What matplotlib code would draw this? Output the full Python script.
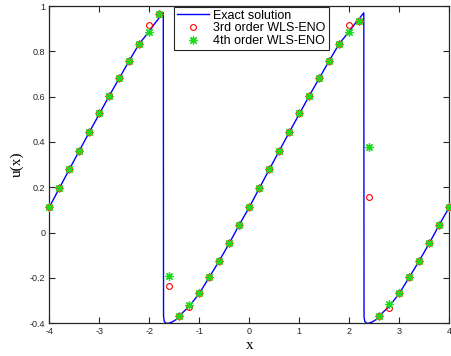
import matplotlib
matplotlib.use("Agg")
import matplotlib.pyplot as plt

# Exact solution
exact_x = [-4.0, -3.6, -3.2, -2.8, -2.4, -2.2, -2.0, -1.9, -1.8, -1.72,
           -1.715, -1.70, -1.66, -1.62, -1.55, -1.45, -1.4, -1.2, -1.0, -0.8,
           -0.6, -0.4, -0.2, 0.0, 0.4, 0.8, 1.2, 1.6, 1.8, 2.0, 2.1, 2.2, 2.29,
           2.295, 2.31, 2.35, 2.38, 2.45, 2.55, 2.6, 2.8, 3.0, 3.2, 3.4, 3.6,
           3.8, 4.0]
exact_u = [0.112, 0.279, 0.443, 0.604, 0.759, 0.834, 0.888, 0.920, 0.948, 0.970,
           -0.370, -0.392, -0.400, -0.400, -0.395, -0.382, -0.367, -0.325, -0.268, -0.197,
           -0.124, -0.047, 0.035, 0.112, 0.279, 0.443, 0.604, 0.759, 0.834, 0.888, 0.918, 0.945, 0.970,
           -0.370, -0.392, -0.400, -0.400, -0.395, -0.382, -0.367, -0.325, -0.268, -0.197, -0.124, -0.047,
           0.035, 0.112]

grid_x = [-4.0, -3.8, -3.6, -3.4, -3.2, -3.0, -2.8, -2.6, -2.4, -2.2,
          -2.0, -1.8, -1.6, -1.4, -1.2, -1.0, -0.8, -0.6, -0.4, -0.2,
          0.0, 0.2, 0.4, 0.6, 0.8, 1.0, 1.2, 1.4, 1.6, 1.8,
          2.0, 2.2, 2.4, 2.6, 2.8, 3.0, 3.2, 3.4, 3.6, 3.8, 4.0]

weno3_u = [0.112, 0.198, 0.279, 0.361, 0.443, 0.528, 0.604, 0.682, 0.759, 0.834,
           0.916, 0.965, -0.236, -0.367, -0.328, -0.268, -0.197, -0.124, -0.047, 0.035,
           0.112, 0.198, 0.279, 0.361, 0.445, 0.528, 0.604, 0.682, 0.758, 0.834,
           0.916, 0.935, 0.156, -0.367, -0.334, -0.268, -0.197, -0.124, -0.047, 0.035, 0.112]

weno4_u = [0.112, 0.198, 0.279, 0.361, 0.443, 0.528, 0.604, 0.682, 0.759, 0.834,
           0.884, 0.965, -0.192, -0.367, -0.321, -0.268, -0.197, -0.124, -0.047, 0.035,
           0.112, 0.198, 0.279, 0.361, 0.445, 0.528, 0.604, 0.682, 0.758, 0.834,
           0.884, 0.935, 0.379, -0.367, -0.317, -0.268, -0.197, -0.124, -0.047, 0.035, 0.112]

xticks = [-4, -3, -2, -1, 0, 1, 2, 3, 4]
xticklabels = ["-4", "-3", "-2", "-1", "0", "1", "2", "3", "4"]
yticks = [-0.4, -0.2, 0, 0.2, 0.4, 0.6, 0.8, 1.0]
yticklabels = ["-0.4", "-0.2", "0", "0.2", "0.4", "0.6", "0.8", "1"]

plt.rcParams['font.family'] = ['Liberation Sans', 'DejaVu Sans']

fig = plt.figure(figsize=(4.51, 3.56), dpi=100)
ax = fig.add_axes([0.1093, 0.0919, 0.8869, 0.8912])

ax.plot(exact_x, exact_u, color=(0, 0, 1), lw=1.0, label="Exact solution", zorder=2)
ax.plot(grid_x, weno3_u, linestyle='none', marker='o', markersize=4.2,
        markerfacecolor='none', markeredgecolor=(1, 0, 0), markeredgewidth=0.8,
        label="3rd order WLS-ENO", zorder=3, clip_on=False)
ax.plot(grid_x, weno4_u, linestyle='none', marker=(8, 2, 0), markersize=6,
        color=(0.1, 0.87, 0.1), markeredgecolor=(0.1, 0.87, 0.1), markeredgewidth=0.9,
        label="4th order WLS-ENO", zorder=4, clip_on=False)

ax.set_xlim(-4, 4)
ax.set_ylim(-0.4, 1.0)
ax.set_xticks(xticks)
ax.set_xticklabels(xticklabels)
ax.set_yticks(yticks)
ax.set_yticklabels(yticklabels)
ax.tick_params(direction='in', length=4, width=0.8, top=True, right=True,
               labelsize=6.5, labelcolor='#262626', color='#262626', pad=3)
for s in ax.spines.values():
    s.set_linewidth(0.9)
    s.set_color('#262626')

ax.set_xlabel("x", family=['Liberation Serif'], fontsize=11, labelpad=2)
ax.set_ylabel("u(x)", family=['Liberation Serif'], fontsize=11, labelpad=4)

leg = ax.legend(loc='upper center', bbox_to_anchor=(0.505, 1.0), borderaxespad=0.05,
                fontsize=9, frameon=True, fancybox=False, edgecolor='#262626',
                handlelength=2.6, handletextpad=0.3, borderpad=0.25, labelspacing=0.05,
                framealpha=1)
leg.get_frame().set_linewidth(0.8)
leg.set_zorder(10)

fig.savefig("out.png", dpi=100)
